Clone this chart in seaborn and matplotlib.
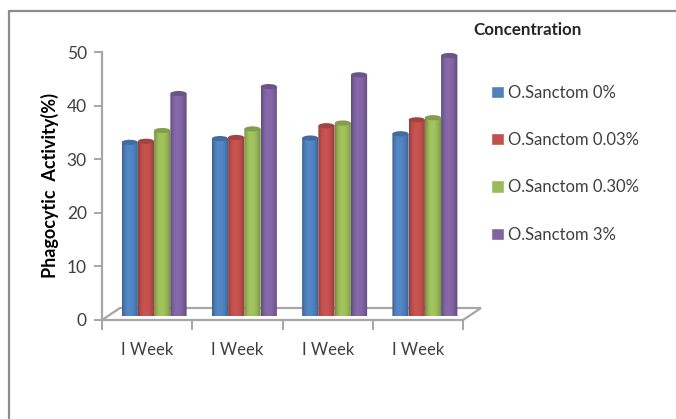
import numpy as np
import pandas as pd
import matplotlib
matplotlib.use("Agg")
import matplotlib.pyplot as plt
from matplotlib.lines import Line2D
from matplotlib.patches import Ellipse, PathPatch, Patch
from matplotlib.path import Path
from matplotlib.colors import to_rgb
import seaborn as sns

week_labels = ["I Week", "I Week", "I Week", "I Week"]
concentrations = ["O.Sanctom 0%", "O.Sanctom 0.03%", "O.Sanctom 0.30%", "O.Sanctom 3%"]
conc_0 = [32.4, 33.1, 33.2, 34.0]
conc_003 = [32.6, 33.3, 35.5, 36.6]
conc_030 = [34.6, 34.9, 36.0, 37.0]
conc_3 = [41.5, 42.8, 45.0, 48.6]
palette = ["#4F81BD", "#C0504D", "#9BBB59", "#8064A2"]

W, H = 676, 419
FONT = "Lato"
GRID = "#A6A6A6"
TEXT = "#404040"

sns.set_theme(style="white")
plt.rcParams["font.family"] = [FONT, "DejaVu Sans"]


def box(left, top, right, bottom):
    """Axes rectangle from pixel edges measured from the top-left corner."""
    return [left / W, 1 - bottom / H, (right - left) / W, (bottom - top) / H]


rows = []
for name, series in zip(concentrations, [conc_0, conc_003, conc_030, conc_3]):
    for week, value in enumerate(series):
        rows.append({"week": week, "concentration": name, "activity": value})
df = pd.DataFrame(rows)

fig = plt.figure(figsize=(W / 100, H / 100), dpi=100, facecolor="white")

# Outer border of the chart area
fig.add_artist(Line2D([9 / W, 1], [1 - 11 / H] * 2, color="#8C8C8C", lw=1.6))
fig.add_artist(Line2D([9 / W, 9 / W], [1 - 11 / H, 0], color="#8C8C8C", lw=1.6))

# Front axis: scale, ticks and category labels
axis_ax = fig.add_axes(box(102, 52, 463, 320))
axis_ax.set_xlim(0, 4)
axis_ax.set_ylim(0, 50)
axis_ax.set_yticks(range(0, 51, 10))
axis_ax.set_xticks(range(5))
axis_ax.set_xticklabels([])
axis_ax.set_xticks(np.arange(4) + 0.5, week_labels, minor=True)
axis_ax.tick_params(axis="y", length=6, width=1.4, color=GRID, labelsize=12.5,
                    labelcolor=TEXT, pad=5, left=True)
axis_ax.tick_params(axis="x", which="major", length=7, width=1.4, color=GRID, bottom=True)
axis_ax.tick_params(axis="x", which="minor", length=0, labelsize=12,
                    labelcolor=TEXT, pad=15.5)
for side, spine in axis_ax.spines.items():
    spine.set_visible(side in ("left", "bottom"))
    spine.set_color(GRID)
    spine.set_linewidth(1.6)
axis_ax.set_ylabel("Phagocytic  Activity(%)", fontsize=13, fontweight="bold", color="black")
axis_ax.yaxis.set_label_coords(-43 / 361, 0.5)

# Floor of the plot box, receding behind the front axis
dx, dy = 18 / 361, 12 / 268
floor_x = [0, dx, 1 + dx, 1]
floor_y = [0, dy, dy, 0]
axis_ax.plot(floor_x, floor_y, transform=axis_ax.transAxes, color=GRID, lw=1.6,
             clip_on=False, solid_joinstyle="miter")

# Columns sit a little behind the front axis
bar_ax = fig.add_axes(box(109, 48, 470, 316))
bar_ax.patch.set_alpha(0)
sns.barplot(data=df, x="week", y="activity", hue="concentration", order=range(4),
            hue_order=concentrations, palette=palette, width=0.72, gap=0,
            saturation=1, legend=False, ax=bar_ax)
bar_ax.set_xlim(-0.5, 3.5)
bar_ax.set_ylim(0, 50)
bar_ax.axis("off")

# Cylinder shading over each column
CAP = 0.48
profile = np.array([0.74, 0.88, 0.98, 1.03, 1.05, 1.05, 1.03, 0.99, 0.93, 0.84, 0.72])
t = np.linspace(0, 1, 80)
shade = np.interp(t, np.linspace(0, 1, len(profile)), profile)
for container, color in zip(bar_ax.containers, palette):
    rgb = np.array(to_rgb(color))
    strip = np.clip(shade[:, None] * rgb, 0, 1)[None, :, :]
    for bar in container:
        x0, w, h = bar.get_x(), bar.get_width(), bar.get_height()
        bar.set_visible(False)
        cx, rx = x0 + w / 2, w / 2
        angle = np.linspace(np.pi, 2 * np.pi, 30)
        outline = np.column_stack([cx + rx * np.cos(angle), CAP * np.sin(angle)])
        outline = np.vstack([outline, [x0 + w, h], [x0, h], outline[0]])
        clip = PathPatch(Path(outline), transform=bar_ax.transData, fc="none", ec="none")
        bar_ax.add_patch(clip)
        image = bar_ax.imshow(strip, extent=(x0, x0 + w, -CAP, h), aspect="auto",
                              interpolation="bilinear", zorder=2)
        image.set_clip_path(clip)
        bar_ax.add_patch(Ellipse((cx, h), w, 2 * CAP, fc=rgb * 0.84,
                                 ec="none", zorder=3))
bar_ax.set_xlim(-0.5, 3.5)
bar_ax.set_ylim(0, 50)

# Legend and its heading
handles = [Patch(facecolor=c, label=n) for c, n in zip(palette, concentrations)]
legend = fig.legend(handles=handles, loc="upper left", bbox_to_anchor=(491 / W, 1 - 85 / H),
                    frameon=False, fontsize=12, labelcolor=TEXT, handlelength=0.75,
                    handleheight=0.75, handletextpad=0.27, labelspacing=1.87,
                    borderpad=0, borderaxespad=0)
fig.text(473 / W, 1 - 30 / H, "Concentration", fontsize=12.2, fontweight="bold",
         color="#262626", va="center", ha="left")

fig.savefig("out.png", dpi=100)
